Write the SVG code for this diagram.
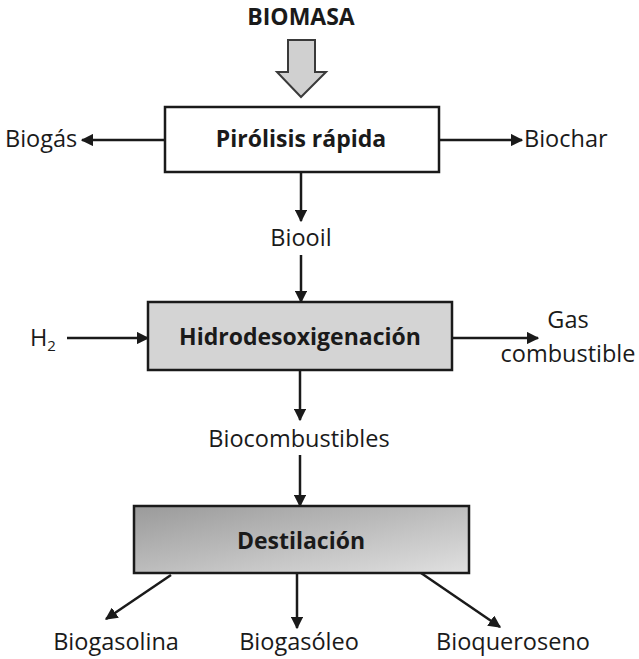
<svg xmlns="http://www.w3.org/2000/svg" width="639" height="659" viewBox="0 0 639 659">
  <style>
    .box { stroke: #1a1a1a; stroke-width: 2.5; }
    .lbl { font-family: "Open Sans", "Noto Sans", sans-serif; font-size: 23.5px; fill: #1a1a1a; }
    .ttl { font-family: "Open Sans", "Noto Sans", sans-serif; font-size: 23px; font-weight: bold; fill: #1a1a1a; }
    .ln { stroke: #1a1a1a; stroke-width: 2.5; fill: none; marker-end: url(#ah); }
  </style>
  <defs>
    <marker id="ah" viewBox="0 0 10 10" refX="9" refY="5" markerWidth="5" markerHeight="5" markerUnits="strokeWidth" orient="auto">
      <path d="M0,0 L10,5 L0,10 z" fill="#1a1a1a"/>
    </marker>
    <linearGradient id="gDist" x1="0" y1="0" x2="1" y2="1">
      <stop offset="0" stop-color="#9a9a9a"/>
      <stop offset="1" stop-color="#e0e0e0"/>
    </linearGradient>
  </defs>

  <rect width="639" height="659" fill="#ffffff"/>

  <!-- feed -->
  <g id="biomasa">
    <text class="ttl" x="301" y="25" text-anchor="middle">BIOMASA</text>
    <path d="M288,40 H315 V72 H326 L301,97 L277,72 H288 Z" fill="#d0d0d0" stroke="#3a3a3a" stroke-width="2"/>
  </g>

  <g id="pirolisis">
    <rect class="box" x="165" y="107" width="274" height="65" fill="#ffffff"/>
    <text class="ttl" x="301" y="147" text-anchor="middle">Pirólisis rápida</text>
  </g>

  <g id="hidro">
    <rect class="box" x="148" y="302" width="304" height="68" fill="#d4d4d4"/>
    <text class="ttl" x="300" y="345" text-anchor="middle">Hidrodesoxigenación</text>
  </g>

  <g id="destilacion">
    <rect class="box" x="134" y="506" width="335" height="67" fill="url(#gDist)"/>
    <text class="ttl" x="301" y="549" text-anchor="middle">Destilación</text>
  </g>

  <!-- product and stream labels -->
  <g id="labels">
    <text class="lbl" x="5" y="147">Biogás</text>
    <text class="lbl" x="524" y="147">Biochar</text>
    <text class="lbl" x="301" y="246" text-anchor="middle">Biooil</text>
    <text class="lbl" x="30" y="346">H<tspan font-size="15" dy="5">2</tspan></text>
    <text class="lbl" x="568" y="328" text-anchor="middle">Gas</text>
    <text class="lbl" x="568" y="362" text-anchor="middle">combustible</text>
    <text class="lbl" x="299" y="447" text-anchor="middle">Biocombustibles</text>
    <text class="lbl" x="116" y="650" text-anchor="middle">Biogasolina</text>
    <text class="lbl" x="299" y="650" text-anchor="middle">Biogasóleo</text>
    <text class="lbl" x="513" y="650" text-anchor="middle">Bioqueroseno</text>
  </g>

  <g id="connectors">
    <line class="ln" x1="165" y1="140" x2="82" y2="140"/>
    <line class="ln" x1="439" y1="140" x2="522" y2="140"/>
    <line class="ln" x1="301" y1="172" x2="301" y2="221"/>
    <line class="ln" x1="301" y1="255" x2="301" y2="302"/>
    <line class="ln" x1="67" y1="338" x2="148" y2="338"/>
    <line class="ln" x1="452" y1="338" x2="538" y2="338"/>
    <line class="ln" x1="300" y1="370" x2="300" y2="420"/>
    <line class="ln" x1="300" y1="455" x2="300" y2="506"/>
    <line class="ln" x1="171" y1="575" x2="106" y2="619"/>
    <line class="ln" x1="297" y1="573" x2="297" y2="628"/>
    <line class="ln" x1="421" y1="573" x2="500" y2="627"/>
  </g>
</svg>
